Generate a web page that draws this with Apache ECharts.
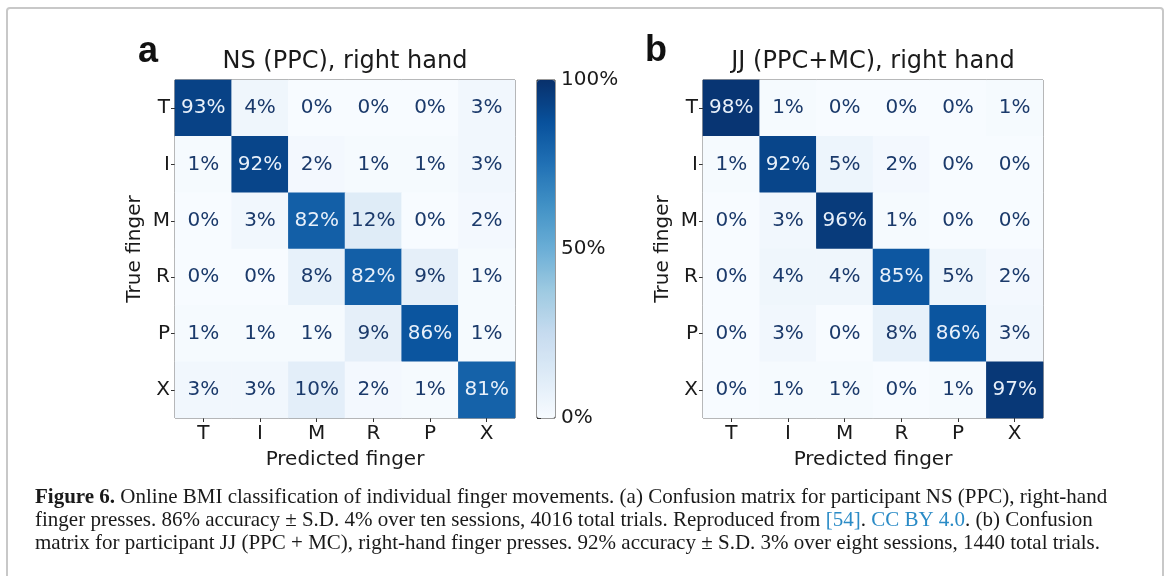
<!DOCTYPE html>
<html><head><meta charset="utf-8">
<script src="https://cdn.jsdelivr.net/npm/echarts@6/dist/echarts.min.js"></script>
<style>html,body{margin:0;padding:0;background:#fff}#c{width:1170px;height:576px}</style>
</head><body><div id="c"></div>
<script>
// ---- data ----
const predictedFingers = ['T','I','M','R','P','X'];
const trueFingers = ['T','I','M','R','P','X'];
// rows = true finger (T..X), columns = predicted finger (T..X), percent
const nsRowT = [93,4,0,0,0,3];
const nsRowI = [1,92,2,1,1,3];
const nsRowM = [0,3,82,12,0,2];
const nsRowR = [0,0,8,82,9,1];
const nsRowP = [1,1,1,9,86,1];
const nsRowX = [3,3,10,2,1,81];
const jjRowT = [98,1,0,0,0,1];
const jjRowI = [1,92,5,2,0,0];
const jjRowM = [0,3,96,1,0,0];
const jjRowR = [0,4,4,85,5,2];
const jjRowP = [0,3,0,8,86,3];
const jjRowX = [0,1,1,0,1,97];
const colorbarMin = 0, colorbarMax = 100, colorbarStep = 50;
const titleA = 'NS (PPC), right hand';
const titleB = 'JJ (PPC+MC), right hand';

const nsMatrix = [nsRowT,nsRowI,nsRowM,nsRowR,nsRowP,nsRowX];
const jjMatrix = [jjRowT,jjRowI,jjRowM,jjRowR,jjRowP,jjRowX];

const blues = ['#f7fbff','#deebf7','#c6dbef','#9ecae1','#6baed6','#4292c6','#2171b5','#08519c','#08306b'];
const FONT = 'DejaVu Sans';
const SERIF = 'Liberation Serif';

function toData(m){
  const out = [];
  m.forEach((row, r) => row.forEach((v, c) => {
    out.push({value:[c, r, v], label:{color: v > 50 ? '#e8f0fa' : '#1b3a6b'}});
  }));
  return out;
}

function catX(gi){
  return {type:'category', gridIndex:gi, data:predictedFingers,
    name:'Predicted finger', nameLocation:'middle', nameGap:32,
    nameTextStyle:{fontFamily:FONT, fontSize:20, color:'#1a1a1a'},
    axisLine:{show:false}, splitLine:{show:false},
    axisTick:{show:true, alignWithLabel:true, length:4, lineStyle:{color:'#333'}},
    axisLabel:{fontFamily:FONT, fontSize:20, color:'#1a1a1a', margin:6}};
}
function catY(gi){
  return {type:'category', gridIndex:gi, data:trueFingers, inverse:true,
    name:'True finger', nameLocation:'middle', nameGap:30, nameRotate:90,
    nameTextStyle:{fontFamily:FONT, fontSize:20, color:'#1a1a1a'},
    axisLine:{show:false}, splitLine:{show:false},
    axisTick:{show:true, alignWithLabel:true, length:4, lineStyle:{color:'#333'}},
    axisLabel:{fontFamily:FONT, fontSize:20, color:'#1a1a1a', margin:5}};
}
function hm(gi, m){
  return {type:'heatmap', xAxisIndex:gi, yAxisIndex:gi, data:toData(m),
    label:{show:true, fontFamily:FONT, fontSize:20, formatter:p => p.value[2] + '%'},
    itemStyle:{borderWidth:0}, emphasis:{disabled:true}};
}

const chart = echarts.init(document.getElementById('c'), null, {renderer:'canvas'});
chart.setOption({
  animation:false,
  backgroundColor:'#fff',
  title:[
    {text:'a', left:138, top:34, padding:0, textStyle:{fontFamily:'Liberation Sans', fontWeight:'bold', fontSize:36, color:'#111'}},
    {text:titleA, left:345, top:50, padding:0, textAlign:'center', textStyle:{fontFamily:FONT, fontWeight:'normal', fontSize:24, color:'#1a1a1a'}},
    {text:'b', left:645, top:33, padding:0, textStyle:{fontFamily:'Liberation Sans', fontWeight:'bold', fontSize:36, color:'#111'}},
    {text:titleB, left:873, top:50, padding:0, textAlign:'center', textStyle:{fontFamily:FONT, fontWeight:'normal', fontSize:24, color:'#1a1a1a'}}
  ],
  grid:[
    {left:175, top:80, width:340, height:338, show:true, borderColor:'#444', borderWidth:1, backgroundColor:'transparent'},
    {left:703, top:80, width:340, height:338, show:true, borderColor:'#444', borderWidth:1, backgroundColor:'transparent'},
    {left:537, top:80, width:18, height:338, show:true, borderColor:'#333', borderWidth:1, backgroundColor:'transparent'}
  ],
  xAxis:[catX(0), catX(1), {type:'value', gridIndex:2, show:false, min:0, max:1}],
  yAxis:[catY(0), catY(1), {type:'value', gridIndex:2, position:'right', min:colorbarMin, max:colorbarMax, interval:colorbarStep,
    axisLine:{show:false}, splitLine:{show:false},
    axisTick:{show:true, length:4, lineStyle:{color:'#333'}},
    axisLabel:{fontFamily:FONT, fontSize:20, color:'#1a1a1a', margin:6, formatter:'{value}%'}}],
  visualMap:{type:'continuous', min:colorbarMin, max:colorbarMax, seriesIndex:[0,1], calculable:false, hoverLink:false,
    orient:'vertical', left:537, top:80, itemWidth:18, itemHeight:338, padding:0, text:null, showLabel:false,
    inRange:{color:blues}},
  series:[hm(0, nsMatrix), hm(1, jjMatrix)],
  graphic:[
    {type:'rect', shape:{x:7, y:8, width:1156, height:640, r:3}, style:{fill:'none', stroke:'#c8c8c8', lineWidth:2}, silent:true},
    {type:'text', left:35, top:487, style:{
      text:'{b|Figure 6.} Online BMI classification of individual finger movements. (a) Confusion matrix for participant NS (PPC), right-hand',
      fontFamily:SERIF, fontSize:21, fill:'#1a1a1a',
      rich:{b:{fontFamily:SERIF, fontSize:21, fontWeight:'bold', fill:'#1a1a1a'}}}},
    {type:'text', left:35, top:510, style:{
      text:'finger presses. 86% accuracy \u00b1 S.D. 4% over ten sessions, 4016 total trials. Reproduced from {l|[54]}. {l|CC BY 4.0}. (b) Confusion',
      fontFamily:SERIF, fontSize:21, fill:'#1a1a1a',
      rich:{l:{fontFamily:SERIF, fontSize:21, fill:'#2a8bc6'}}}},
    {type:'text', left:35, top:533, style:{
      text:'matrix for participant JJ (PPC + MC), right-hand finger presses. 92% accuracy \u00b1 S.D. 3% over eight sessions, 1440 total trials.',
      fontFamily:SERIF, fontSize:21, fill:'#1a1a1a'}}
  ]
});
</script></body></html>
